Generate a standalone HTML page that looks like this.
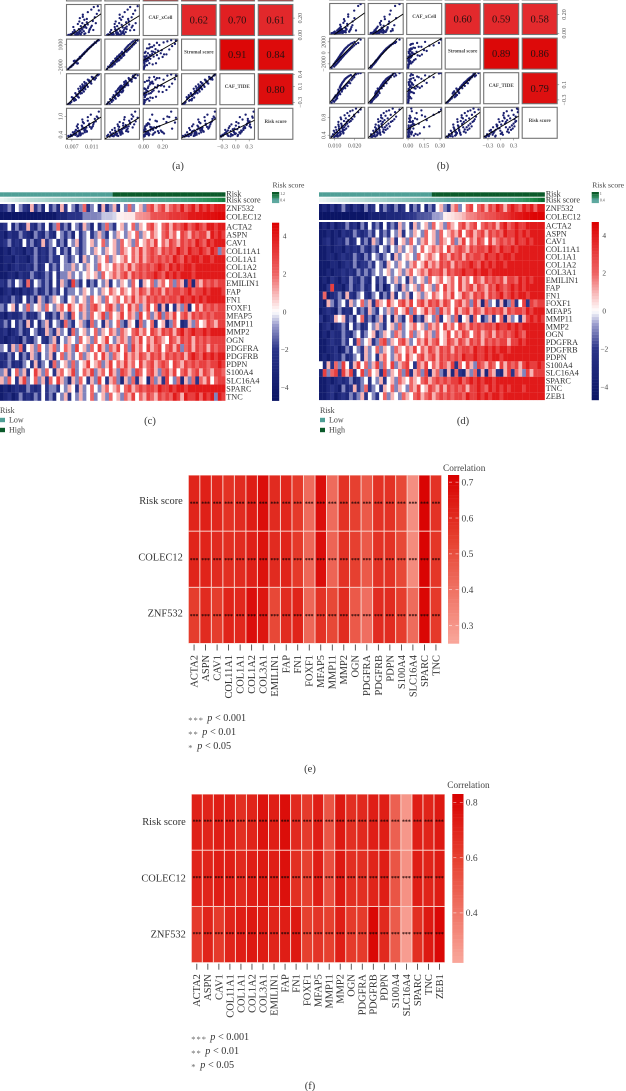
<!DOCTYPE html>
<html lang="en">
<head>
<meta charset="utf-8">
<title>Correlation panels</title>
<style>
html,body{margin:0;padding:0;background:#fff;}
body{width:626px;height:1091px;overflow:hidden;}
svg{display:block;font-family:"Liberation Serif",serif;}
text{fill:#333;}
</style>
</head>
<body>
<svg id="root" xmlns="http://www.w3.org/2000/svg" width="626" height="1091" viewBox="0 0 626 1091">
<rect x="0" y="0" width="626" height="1091" fill="#fff"/>
<text x="178" y="169" font-size="10.5" text-anchor="middle">(a)</text>
<text x="443" y="169" font-size="10.5" text-anchor="middle">(b)</text>
<text x="150" y="424" font-size="10.5" text-anchor="middle">(c)</text>
<text x="463" y="424" font-size="10.5" text-anchor="middle">(d)</text>
<text x="310" y="772" font-size="10.5" text-anchor="middle">(e)</text>
<text x="310" y="1089" font-size="10.5" text-anchor="middle">(f)</text>
</svg>
<script>
/* ---------- pair plot data: one value per sample ---------- */
const pairNames = ["", "", "CAF_xCell", "Stromal score", "CAF_TIDE", "Risk score"];
const aCafOne = [.0063,.0068,.0066,.0072,.0069,.0075,.0070,.0078,.0073,.0074,.0081,.0076,.0082,.0077,.0084,.0079,.0085,.0080,.0087,.0081,.0088,.0082,.0086,.0083,.0090,.0085,.0091,.0086,.0092,.0087,.0094,.0088,.0095,.0090,.0096,.0091,.0097,.0092,.0099,.0094,.0100,.0095,.0102,.0097,.0104,.0100,.0106,.0102,.0109,.0105,.0112,.0108,.0114,.0110,.0116,.0113,.0120,.0118,.0124,.0122];
const aCafTwo = [.0064,.0066,.0069,.0070,.0073,.0072,.0075,.0074,.0079,.0076,.0077,.0081,.0079,.0083,.0080,.0082,.0081,.0086,.0083,.0088,.0084,.0085,.0089,.0086,.0087,.0091,.0088,.0093,.0089,.0090,.0095,.0091,.0092,.0096,.0093,.0098,.0094,.0095,.0100,.0096,.0102,.0098,.0099,.0103,.0101,.0106,.0103,.0108,.0105,.0110,.0107,.0113,.0110,.0115,.0113,.0118,.0116,.0121,.0120,.0125];
const aXcell = [.002,.010,.003,.035,.006,.060,.012,.005,.095,.020,.008,.045,.130,.004,.070,.025,.160,.015,.055,.005,.105,.030,.200,.010,.075,.040,.140,.018,.240,.050,.090,.008,.180,.030,.120,.065,.020,.215,.085,.045,.150,.012,.270,.100,.035,.190,.070,.125,.300,.055,.165,.090,.330,.110,.210,.060,.250,.140,.290,.340];
const aStromal = [-2250,-1950,-2050,-1750,-1950,-1500,-1800,-1400,-1650,-1200,-1550,-1150,-1500,-1300,-900,-1250,-850,-1150,-800,-1100,-600,-1000,-650,-950,-500,-850,-400,-750,-300,-700,-250,-600,-150,-500,-50,-400,50,-300,100,-150,200,-100,350,50,500,250,650,400,800,500,950,700,1100,900,1300,1050,1450,1250,1600,1550];
const aTide = [-.34,-.30,-.33,-.22,-.29,-.26,-.17,-.24,-.19,-.25,-.12,-.21,-.16,-.07,-.18,-.11,-.03,-.14,-.08,-.12,.00,-.10,-.04,.04,-.07,-.02,.07,-.05,.01,.10,-.03,.05,.12,.00,.08,.15,.03,.10,.18,.06,.13,.21,.09,.17,.24,.13,.20,.27,.17,.25,.31,.22,.28,.34,.27,.32,.37,.31,.40,.38];
const aRisk = [.36,.40,.34,.48,.37,.42,.36,.56,.40,.45,.35,.50,.62,.39,.54,.42,.46,.68,.38,.52,.44,.74,.48,.36,.58,.42,.66,.50,.82,.46,.60,.40,.54,.70,.48,.90,.58,.44,.64,.78,.52,.62,.98,.56,.72,.50,.66,.86,.60,.76,.68,1.06,.80,.64,.92,.74,1.0,.84,1.16,.96];
const bCafOne = [.0085,.0092,.0098,.0096,.0104,.0101,.0108,.0105,.0113,.0109,.0116,.0112,.0119,.0114,.0122,.0117,.0125,.0119,.0128,.0121,.0131,.0124,.0133,.0126,.0136,.0128,.0138,.0130,.0141,.0133,.0144,.0135,.0147,.0138,.0150,.0141,.0153,.0144,.0156,.0147,.0160,.0150,.0164,.0154,.0168,.0158,.0173,.0163,.0178,.0168,.0184,.0174,.0190,.0181,.0198,.0189,.0207,.0199,.0218,.0230];
const bCafTwo = [.0088,.0090,.0094,.0101,.0098,.0106,.0103,.0110,.0107,.0114,.0111,.0117,.0113,.0121,.0116,.0124,.0118,.0127,.0120,.0130,.0123,.0132,.0125,.0135,.0127,.0137,.0129,.0140,.0132,.0143,.0134,.0146,.0137,.0149,.0140,.0152,.0143,.0155,.0146,.0159,.0149,.0163,.0153,.0167,.0157,.0172,.0162,.0177,.0167,.0183,.0173,.0189,.0180,.0197,.0188,.0206,.0198,.0215,.0210,.0232];
const bXcell = [.001,.004,.002,.010,.003,.018,.002,.006,.030,.004,.012,.002,.042,.007,.020,.003,.055,.010,.005,.028,.070,.004,.015,.036,.006,.090,.012,.024,.005,.048,.110,.008,.018,.034,.130,.006,.060,.022,.010,.150,.040,.014,.080,.028,.175,.050,.016,.100,.035,.200,.065,.022,.125,.045,.240,.085,.030,.160,.290,.310];
const bStromal = [-2700,-2350,-2500,-2050,-2250,-1850,-2100,-1600,-1900,-1450,-1750,-1300,-1650,-1200,-1500,-1050,-1350,-950,-1250,-800,-1150,-700,-1000,-550,-900,-450,-800,-300,-700,-200,-550,-50,-450,50,-300,200,-200,350,-100,500,50,650,200,800,350,950,500,1100,700,1300,900,1450,1100,1650,1350,1800,1600,2000,1800,2400];
const bTide = [-.37,-.32,-.35,-.26,-.31,-.22,-.28,-.18,-.26,-.23,-.13,-.21,-.10,-.19,-.07,-.17,-.12,-.03,-.15,-.09,.00,-.12,-.05,.03,-.08,.05,-.03,.08,-.01,.10,.02,.12,.04,.15,.06,.17,.01,.19,.09,.21,.12,.24,.07,.26,.15,.28,.18,.30,.14,.32,.22,.34,.26,.36,.30,.32,.38,.35,.40,.41];
const bRisk = [.37,.42,.36,.50,.39,.46,.38,.58,.42,.52,.37,.47,.64,.41,.55,.45,.39,.70,.48,.60,.43,.52,.76,.46,.62,.41,.56,.80,.50,.66,.44,.58,.72,.48,.85,.53,.64,.46,.78,.58,.70,.52,.90,.62,.74,.55,.84,.66,.94,.60,.78,.70,.96,.72,.86,.76,1.0,.82,.92,.98];

/* correlation values shown in the upper triangle, keyed by row then column */
const aCorrXcell = [0.62, 0.70, 0.61];
const aCorrStromal = [0.91, 0.84];
const aCorrTide = [0.80];
const bCorrXcell = [0.60, 0.59, 0.58];
const bCorrStromal = [0.89, 0.86];
const bCorrTide = [0.79];

/* axis tick labels for the pair plots */
const aTicksCaf = [0.007, 0.011];
const aTicksXcell = [0.00, 0.20];
const aTicksStromal = [-2000, 1000];
const aTicksTideX = [-0.3, 0.0, 0.3];
const aTicksTideY = [-0.3, 0.1, 0.4];
const aTicksRisk = [0.4, 1.0];
const bTicksCaf = [0.010, 0.020];
const bTicksXcell = [0.00, 0.15, 0.30];
const bTicksStromal = [-2000, 0, 2000];
const bTicksTideX = [-0.3, 0.0, 0.3];
const bTicksTideY = [-0.3, 0.1];
const bTicksRisk = [0.4, 0.8];

/* ---------- expression heatmap (c) ---------- */
const cGenes = ["ACTA2","ASPN","CAV1","COL11A1","COL1A1","COL1A2","COL3A1","EMILIN1","FAP","FN1","FOXF1","MFAP5","MMP11","MMP2","OGN","PDGFRA","PDGFRB","PDPN","S100A4","SLC16A4","SPARC","TNC"];
const cRiskGroup = [0,0,0,0,0,0,0,0,0,0,0,0,0,0,0,0,0,0,0,0,0,0,0,0,0,0,0,0,0,0,1,1,1,1,1,1,1,1,1,1,1,1,1,1,1,1,1,1,1,1,1,1,1,1,1,1,1,1,1,1];
const cRiskScore = [.31,.33,.35,.37,.39,.41,.42,.44,.45,.46,.47,.48,.50,.51,.52,.53,.54,.55,.56,.57,.58,.59,.60,.61,.62,.63,.64,.65,.66,.67,.68,.69,.70,.71,.72,.73,.74,.75,.76,.78,.79,.80,.82,.83,.85,.86,.88,.89,.91,.93,.95,.97,.99,1.01,1.03,1.05,1.07,1.09,1.12,1.15];
const cZnf = [-3,-2,-1,-3,0,-1,-2,-3,1,-2,-1,-3,0,-2,-1,-3,1,-2,0,-1,-3,-1,2,-2,-1,0,-3,1,-2,-1,1,-2,0,-1,2,-1,0,1,-1,2,3,1,2,3,1,2,3,2,4,2,3,4,2,4,3,4,3,4,4,4];
const cColec = [-4.5,-4.5,-4.5,-4.5,-4.5,-4.5,-4.5,-4.5,-4.5,-4.5,-4.4,-4.4,-4.4,-4.3,-4.3,-3.2,-3.2,-3.2,-2.1,-2.1,-2.1,-2,-1,-1,-1,-1,-.9,-.4,-.4,-.4,-.3,.2,.2,.3,.3,.3,1.3,1.4,1.5,1.6,2.4,2.5,2.5,2.6,2.7,3.2,3.2,3.3,3.3,3.4,4,4,4.1,4.1,4.2,4.3,4.3,4.4,4.5,4.5];
const cRows = [
[-3,-2,0,-3,-1,-3,-2,1,-2,-3,-1,-2,0,-3,-1,2,-2,-1,-3,0,-1,-2,1,-1,-3,0,-2,-1,2,-1,-2,0,1,-1,0,2,-1,1,0,2,3,1,0,2,3,1,3,2,3,4,2,3,4,3,2,4,4,3,4,4],
[-3,-4,-2,-3,-3,-1,-2,-3,-4,-1,-2,-3,-1,-2,-3,0,-1,-2,-1,-3,0,-2,-1,0,-2,-1,1,-1,-2,0,-1,1,0,-1,1,0,2,-1,1,0,2,1,0,2,3,1,2,0,3,2,1,3,2,3,3,1,4,3,4,3],
[-3,-2,-1,-3,-2,-3,0,-2,-1,-3,-2,1,-2,-1,0,-2,-1,-3,0,-1,1,-2,-1,0,1,-1,0,2,-1,0,1,-1,2,0,1,-1,2,0,1,2,1,3,0,2,1,3,2,1,3,2,3,2,4,3,2,4,3,4,4,4],
[-4,-3,-4,-2,-3,-3,-4,-2,-3,-1,-3,-2,-3,-1,-2,0,-2,-1,-3,0,-1,-2,-1,0,-1,1,0,-1,1,0,1,-1,2,1,0,2,1,3,1,2,3,2,1,3,2,3,2,4,3,2,4,3,3,4,3,2,4,3,-1,2],
[-4,-3,-3,-4,-2,-3,-3,-4,-2,-1,-3,-2,-3,-1,-2,-2,0,-1,-2,-1,0,-2,1,-1,0,-1,1,0,2,-1,1,0,1,2,0,2,1,3,1,2,3,2,3,2,3,2,4,3,2,4,3,4,4,3,4,4,3,4,4,4],
[-4,-3,-4,-3,-2,-3,-3,-2,-3,-1,-3,-2,0,-2,-1,-2,0,-1,-1,1,-1,0,-1,1,0,-1,2,0,1,0,2,1,2,1,3,1,2,3,2,3,2,3,4,3,2,4,3,4,3,4,4,3,4,4,4,4,4,4,4,4],
[-4,-4,-3,-3,-4,-2,-3,-3,-1,-2,-3,-2,-1,-2,0,-2,-1,-1,1,-1,0,-1,0,1,0,1,-1,2,0,1,2,1,2,3,1,3,2,3,2,3,3,4,3,2,4,3,4,3,4,4,4,3,4,4,4,4,4,4,4,4],
[-2,-3,-1,-2,0,-1,-3,2,-2,0,-1,-2,-1,-3,0,-2,1,-1,-2,3,-1,-2,0,-3,-1,-2,0,-1,1,-2,0,-1,1,0,-1,2,0,-2,1,0,2,-1,1,2,0,2,-1,2,1,-2,3,-3,2,1,3,2,3,2,3,3],
[-4,-3,-2,-4,-3,-4,-2,-3,-2,-1,-3,-2,-1,-3,-1,-2,0,-2,-1,-1,0,-1,1,0,-1,0,-1,1,0,2,1,0,2,1,0,2,1,3,2,1,3,2,3,1,3,2,3,3,2,3,4,2,3,3,4,3,4,4,4,3],
[-3,-2,-3,-1,-2,-3,0,-2,-1,-3,1,-1,-2,-1,1,0,-1,-2,0,1,-1,0,1,-1,2,0,1,-1,2,0,1,2,0,2,1,3,1,2,1,3,2,3,2,3,2,3,3,2,4,3,3,4,3,4,3,4,4,4,4,4],
[-1,-2,0,1,-2,0,-1,2,-1,0,1,-1,2,0,-1,1,2,0,3,1,0,2,1,-1,2,3,1,0,2,3,1,-1,2,0,3,1,2,-1,1,3,0,2,-2,1,-3,0,-2,1,-1,2,-3,0,3,1,3,2,3,2,3,3],
[-3,-4,-2,-3,-3,-2,-1,-3,-2,-3,-1,0,-2,-3,-1,-2,1,-1,-2,2,0,-1,1,-1,2,0,1,3,-1,2,0,1,3,0,2,1,-1,3,0,2,-1,1,3,-1,2,1,3,0,2,3,1,3,2,3,2,3,2,3,3,3],
[-2,-1,-3,0,-2,-1,-3,1,-2,0,-3,-1,1,-2,0,-1,-2,2,-1,-2,0,1,-1,-2,2,-1,0,-2,1,-1,0,2,-1,-2,1,0,-3,2,-1,0,2,-2,0,1,-3,-1,2,0,-3,-2,1,-1,2,0,1,3,2,1,3,3],
[-3,-2,-4,-3,-2,-1,-3,-2,0,-1,-3,-2,1,-1,-2,1,-1,0,-2,2,-1,0,1,-1,0,2,-1,1,0,2,1,-1,2,1,0,2,3,1,2,0,3,2,1,3,2,3,1,3,4,2,3,4,3,3,4,3,4,4,4,4],
[-3,-4,-3,-2,-3,-4,-1,-2,-3,-1,0,-2,-3,-1,1,-2,0,-1,1,0,-1,2,0,1,-1,2,0,1,3,0,-1,1,2,1,-1,2,1,3,0,2,1,3,2,1,0,3,2,1,3,2,3,1,3,2,3,2,3,3,3,3],
[-1,0,-2,1,-1,2,-2,0,1,-1,2,0,-1,1,2,-1,0,2,1,-1,3,0,1,-1,2,0,3,1,-1,2,1,3,0,2,-1,3,1,2,0,3,1,2,3,0,2,3,1,3,-1,2,3,1,3,2,3,1,3,2,3,3],
[-2,-3,-1,-2,0,-3,-1,-2,1,-1,-2,0,-1,1,-2,0,2,-1,1,-1,0,2,-1,1,0,2,0,3,1,-1,2,1,0,3,1,2,1,3,2,1,3,2,3,1,3,2,3,2,3,1,3,4,3,2,4,3,4,3,4,4],
[-3,-2,-1,-3,-2,-3,-1,0,-2,1,-2,-1,0,-2,2,-1,0,1,-1,2,-1,0,1,3,0,1,2,-1,1,3,0,2,1,3,1,2,0,3,1,2,3,1,2,3,2,0,3,2,1,3,2,3,2,3,3,2,3,3,4,3],
[-1,1,-2,0,2,-1,1,-2,0,3,1,-1,2,0,-2,1,2,0,1,3,-1,0,2,1,3,-1,1,2,0,3,1,-1,3,2,1,-1,3,2,0,2,3,1,-1,2,3,1,3,0,2,3,1,2,3,1,3,2,1,3,3,2],
[1,-1,2,0,-2,1,3,-1,0,2,-1,1,-2,2,0,3,1,-1,-3,1,-1,2,0,-2,1,-1,3,0,-2,1,2,-1,-3,1,-1,2,-2,1,0,-3,2,-1,1,-2,3,0,-1,2,-3,1,-1,2,-2,2,1,3,0,2,3,3],
[-4,-3,-4,-3,-2,-3,-3,-1,-2,-3,-2,0,-2,-1,-1,-2,0,-1,1,0,-2,1,-1,0,2,0,-1,1,2,0,1,2,0,2,3,1,2,3,2,3,3,2,4,3,3,4,3,4,4,3,4,4,4,4,4,4,4,4,4,4],
[-4,-3,-2,-4,-3,-1,-3,-2,-3,-1,-2,0,-2,-1,-3,0,-1,1,-2,0,-1,1,-1,0,2,-1,0,1,-1,2,0,1,-1,2,1,3,0,2,1,3,2,1,3,2,3,2,4,3,1,4,3,3,4,2,4,3,4,-1,4,3]
];

/* ---------- expression heatmap (d) ---------- */
const dGenes = ["ACTA2","ASPN","CAV1","COL11A1","COL1A1","COL1A2","COL3A1","EMILIN1","FAP","FN1","FOXF1","MFAP5","MMP11","MMP2","OGN","PDGFRA","PDGFRB","PDPN","S100A4","SLC16A4","SPARC","TNC","ZEB1"];
const dRiskGroup = [0,0,0,0,0,0,0,0,0,0,0,0,0,0,0,0,0,0,0,0,0,0,0,0,0,0,0,0,0,0,1,1,1,1,1,1,1,1,1,1,1,1,1,1,1,1,1,1,1,1,1,1,1,1,1,1,1,1,1,1];
const dRiskScore = [.30,.31,.33,.35,.36,.38,.39,.40,.42,.43,.44,.45,.47,.48,.49,.50,.51,.52,.54,.55,.56,.57,.58,.59,.60,.61,.62,.63,.64,.65,.66,.67,.68,.70,.71,.72,.73,.74,.75,.77,.78,.79,.81,.82,.84,.85,.87,.88,.90,.92,.94,.96,.98,1.0,1.03,1.06,1.09,1.13,1.17,1.22];
const dZnf = [-4,-3,-4,-2,-4,-3,-1,-3,-4,-2,-3,-4,-1,-3,-2,0,-3,-1,-2,-3,-1,-3,-2,0,-3,-1,-2,0,-3,-1,-2,0,1,-1,-2,1,2,-1,0,2,3,0,2,3,1,3,2,4,3,1,3,4,3,2,4,3,4,2,4,4];
const dColec = [-4.6,-4.6,-4.6,-4.6,-4.6,-4.6,-4.6,-4.6,-4.5,-4.5,-4.5,-4.5,-4.5,-3.6,-3.6,-3.6,-3.5,-3.5,-3,-3,-2.9,-2.8,-2.6,-2,-2,-1.9,-1.6,-1.6,-1.5,-1.5,-.7,-.7,-.6,.2,.3,.4,.6,.7,1,1.5,1.6,1.7,2,2,2.4,2.5,2.6,3,3.1,3.3,3.5,3.8,4,4.1,4.3,4.4,4.5,4.6,4.6,4.6];
const dRows = [
[-4,-3,-4,-2,-4,-3,-3,-1,-3,-2,-4,-1,-3,0,-2,-1,-3,0,-2,-1,-2,1,-1,0,-2,1,-1,0,1,-1,2,0,1,-1,2,1,0,2,3,1,2,3,0,2,3,2,3,1,3,4,2,3,4,3,3,4,4,4,4,4],
[-4,-4,-3,-4,-3,-4,-2,-3,-3,-1,-2,-3,-2,-1,-2,0,-2,-1,-2,0,-1,1,-2,0,-1,1,0,-1,2,0,1,-1,2,0,1,2,1,3,0,2,3,1,2,3,1,3,2,3,2,4,3,3,4,3,4,3,4,4,4,4],
[-4,-3,-2,-4,-3,-2,-3,-1,-3,-2,0,-2,-1,-3,1,-1,-2,0,-1,1,-2,0,1,-1,2,0,-1,1,2,0,1,-1,2,1,0,2,-1,1,3,0,2,1,3,2,0,3,1,2,3,2,3,2,4,3,3,4,3,4,4,4],
[-4,-4,-3,-4,-3,-3,-4,-2,-3,-2,-3,-1,-2,-3,-1,-2,0,-1,-2,0,-1,1,-1,0,1,-1,0,2,0,1,2,1,2,0,3,1,2,3,2,1,3,2,3,3,2,4,3,2,4,3,3,4,3,4,4,4,4,4,4,4],
[-4,-4,-3,-3,-4,-3,-2,-3,-3,-1,-2,-3,-1,-2,0,-1,-2,-1,0,-2,1,-1,0,1,0,-1,2,0,1,2,1,0,3,2,1,3,2,3,1,3,2,3,3,2,4,3,3,4,3,4,4,3,4,4,4,4,4,4,4,4],
[-4,-4,-4,-3,-3,-4,-3,-2,-3,-1,-3,-2,-2,-1,-2,0,-1,-2,1,0,-1,1,0,-1,1,2,0,1,3,1,2,1,3,2,3,1,3,2,3,3,4,3,2,4,3,4,3,4,4,3,4,4,4,4,4,4,4,4,4,4],
[-4,-4,-3,-4,-3,-3,-2,-3,-2,-3,-1,-2,-1,-2,-1,0,-1,0,1,-1,0,1,-1,1,2,0,1,2,1,3,2,2,3,1,3,2,3,3,4,3,3,4,3,4,4,3,4,4,4,4,4,4,4,4,4,4,4,4,4,4],
[-4,-3,-4,-2,-3,-4,-2,-3,-1,-2,-3,-1,-2,-3,0,-2,-1,-2,0,-1,1,-1,0,-2,1,-1,0,1,-1,2,0,1,2,0,1,2,0,3,1,2,0,3,2,1,3,2,3,2,3,1,3,3,2,4,3,4,3,4,4,4],
[-4,-4,-2,3,-3,-3,-4,-2,-1,-3,-2,-1,-3,-2,0,-3,-1,-4,-2,0,-1,-2,1,-1,0,1,-1,2,0,1,-1,2,0,3,1,2,0,3,1,2,3,1,3,2,1,3,2,4,3,2,3,4,3,4,3,4,4,4,4,4],
[-3,2,-4,-3,-2,-1,-3,1,-2,-3,-1,0,-2,-3,-1,0,-3,-1,-2,1,-2,0,-1,1,-2,0,1,-1,1,0,2,1,0,2,1,3,0,1,3,2,1,3,2,3,1,3,2,3,4,2,3,4,3,4,4,3,4,4,4,4],
[-3,-4,1,-1,-3,-1,0,-2,1,-1,0,2,-1,1,-2,2,1,0,3,1,0,2,3,1,3,0,2,3,1,3,2,3,1,3,2,0,2,3,1,2,-1,3,1,-3,2,-1,0,-2,1,-3,-1,2,-2,0,3,-2,3,2,3,3],
[-4,-3,-2,-3,-4,-1,-3,-2,-3,0,-2,-1,-2,1,-1,-2,0,-1,1,-1,2,0,1,3,-1,2,0,1,3,1,2,-1,3,1,2,0,3,1,2,3,1,3,2,1,3,2,3,2,3,1,3,2,3,3,2,4,3,4,4,4],
[-2,-4,-3,-2,1,0,1,-2,-1,-3,0,2,-2,-1,-3,-1,1,-2,0,-3,1,-1,-2,0,2,-3,-1,-2,1,0,-1,2,-2,0,1,-1,2,-3,0,1,-2,2,0,-3,-1,1,-2,0,2,-3,1,-1,0,-2,1,3,4,3,4,3],
[-4,-3,-2,-4,-3,-2,-1,-3,0,-2,-1,-3,-2,0,-1,1,-1,-2,0,1,-1,2,-1,0,1,2,0,1,-1,2,1,2,0,3,1,2,0,3,2,1,3,2,3,2,3,3,2,4,3,3,4,3,4,3,4,4,4,4,4,4],
[-4,-3,-4,-2,-3,-3,-1,-2,-3,-1,0,-2,-1,0,1,-2,-1,1,0,-1,2,1,-1,0,2,-1,1,0,2,1,-1,2,0,1,3,0,2,1,3,2,0,2,3,1,2,3,1,3,2,3,2,3,4,3,2,4,4,4,4,4],
[-4,-4,-3,-2,-3,-3,-1,-2,0,-2,2,-1,0,1,-2,-1,2,3,-1,1,0,2,3,1,-1,0,2,1,3,1,2,3,0,1,3,2,1,3,2,1,3,2,3,1,3,2,3,2,3,3,1,3,3,4,3,4,4,4,4,4],
[-4,-4,-3,-3,-2,-4,-3,-1,-2,0,-1,-2,1,-1,0,2,-1,1,0,-1,2,1,0,2,1,3,0,2,1,3,2,1,3,2,3,1,3,2,3,3,2,4,3,3,4,3,4,3,4,4,3,4,4,4,4,4,4,4,4,4],
[-4,-3,-4,-3,-2,-3,-1,-3,-2,-1,0,-2,1,-1,0,-2,1,2,0,-1,1,2,0,3,1,0,2,3,1,2,3,1,3,2,3,2,3,2,4,3,3,4,3,3,4,3,4,4,3,4,4,4,4,4,4,4,4,4,4,4],
[0,-3,1,-2,2,-1,3,0,-2,1,3,0,2,-1,1,3,-1,2,0,3,-1,1,2,3,0,-2,2,1,3,0,2,1,3,2,1,3,-2,2,0,3,1,-1,3,2,1,3,2,0,3,1,3,2,3,1,3,4,3,3,4,3],
[-3,3,-1,2,3,-2,3,1,3,-2,0,3,-1,2,0,1,-2,3,-1,1,0,2,-1,3,-2,1,2,-1,3,-3,1,2,-1,-3,1,-3,2,-2,-3,1,-1,2,-2,1,-3,2,1,-2,-3,1,3,-2,2,1,-1,3,1,3,3,3],
[-4,-4,-3,-4,-3,-2,-3,-2,-1,-3,-2,-1,0,-2,0,-1,1,-2,0,1,-1,2,1,0,2,1,0,2,3,1,2,3,2,3,2,3,3,4,2,3,4,3,4,3,4,4,3,4,4,4,4,4,4,4,4,4,4,4,4,4],
[-4,-4,-3,-2,-3,-4,-1,-3,-2,1,-2,-1,2,-2,-1,0,-2,1,0,2,-1,1,0,-1,2,1,3,0,1,3,2,1,3,1,3,2,3,2,3,1,3,3,4,3,2,4,3,4,3,4,3,4,4,4,3,4,4,4,4,4],
[-4,-4,-3,-2,-4,-3,-2,-3,-1,-2,-1,1,-2,0,-1,-2,0,2,-1,1,0,-1,2,1,0,2,3,1,2,3,1,2,3,2,3,2,3,3,2,4,3,3,4,3,4,3,4,4,3,4,4,4,4,4,4,4,4,4,4,4]
];

/* ---------- correlation heatmap (e) ---------- */
const eGenes = ["ACTA2","ASPN","CAV1","COL11A1","COL1A1","COL1A2","COL3A1","EMILIN1","FAP","FN1","FOXF1","MFAP5","MMP11","MMP2","OGN","PDGFRA","PDGFRB","PDPN","S100A4","SLC16A4","SPARC","TNC"];
const eRowLabels = ["Risk score","COLEC12","ZNF532"];
const eRiskScore = [.62,.63,.61,.58,.60,.64,.68,.60,.61,.56,.42,.68,.42,.58,.54,.47,.58,.58,.52,.32,.71,.58];
const eColec = [.62,.62,.60,.59,.60,.63,.67,.60,.62,.56,.43,.68,.44,.58,.54,.47,.58,.58,.52,.33,.71,.57];
const eZnf = [.55,.60,.55,.62,.61,.68,.66,.52,.60,.62,.43,.58,.52,.60,.47,.41,.60,.60,.55,.42,.70,.56];
const eBarTicks = [0.7,0.6,0.5,0.4,0.3];

/* ---------- correlation heatmap (f) ---------- */
const fGenes = ["ACTA2","ASPN","CAV1","COL11A1","COL1A1","COL1A2","COL3A1","EMILIN1","FAP","FN1","FOXF1","MFAP5","MMP11","MMP2","OGN","PDGFRA","PDGFRB","PDPN","S100A4","SLC16A4","SPARC","TNC","ZEB1"];
const fRowLabels = ["Risk score","COLEC12","ZNF532"];
const fRiskScore = [.71,.70,.72,.72,.66,.70,.76,.72,.78,.68,.62,.72,.52,.74,.66,.68,.72,.72,.48,.28,.72,.70,.74];
const fColec = [.70,.70,.72,.72,.68,.72,.74,.72,.77,.66,.60,.72,.54,.74,.66,.66,.70,.72,.52,.30,.72,.70,.73];
const fZnf = [.62,.70,.62,.70,.72,.74,.73,.70,.72,.74,.60,.64,.60,.72,.62,.62,.80,.68,.50,.26,.66,.74,.80];
const fBarTicks = [0.8,0.6,0.4];

/* ---------- helpers ---------- */
const NS = "http://www.w3.org/2000/svg";
const root = document.getElementById("root");
function svgEl(tag, attrs, parent) {
  const e = document.createElementNS(NS, tag);
  for (const k in attrs) e.setAttribute(k, attrs[k]);
  (parent || root).appendChild(e);
  return e;
}
function linear(d0, d1, r0, r1) { return v => r0 + (v - d0) / (d1 - d0) * (r1 - r0); }
function hexToRgb(h) { return [parseInt(h.slice(1,3),16), parseInt(h.slice(3,5),16), parseInt(h.slice(5,7),16)]; }
function ramp(stops) {
  return v => {
    if (v <= stops[0][0]) return stops[0][1];
    for (let i = 1; i < stops.length; i++) {
      if (v <= stops[i][0]) {
        const t = (v - stops[i-1][0]) / (stops[i][0] - stops[i-1][0]);
        const a = hexToRgb(stops[i-1][1]), b = hexToRgb(stops[i][1]);
        return "rgb(" + a.map((c, n) => Math.round(c + (b[n] - c) * t)).join(",") + ")";
      }
    }
    return stops[stops.length-1][1];
  };
}
const heatColor = ramp([[-4.7,"#0a1464"],[-2,"#2a3488"],[-0.7,"#9a9ccd"],[0,"#ffffff"],[1,"#f7b3b3"],[2,"#ee6464"],[4.7,"#dd0000"]]);
const scoreColor = ramp([[.3,"#eef6f4"],[.5,"#a9d3cc"],[.72,"#5ea99f"],[.95,"#419a78"],[1.1,"#1f8a4a"],[1.22,"#0b6a30"]]);
const pairColor = ramp([[.5,"#e43235"],[.7,"#e11f22"],[.8,"#dd0e0e"],[.92,"#dc0606"]]);
function fmtTick(v, digits) { return (v < 0 ? "\u2212" : "") + Math.abs(v).toFixed(digits); }
function regress(xs, ys) {
  const n = xs.length;
  const mx = xs.reduce((a,b)=>a+b,0)/n, my = ys.reduce((a,b)=>a+b,0)/n;
  let sxy = 0, sxx = 0;
  for (let i = 0; i < n; i++) { sxy += (xs[i]-mx)*(ys[i]-my); sxx += (xs[i]-mx)*(xs[i]-mx); }
  const m = sxy / sxx;
  return { m: m, b: my - m * mx };
}

/* ---------- pair plot ---------- */
let clipCounter = 0;
function drawPairs(cfg) {
  const g = svgEl("g", {});
  
  
  const px = i => cfg.x0 + i * cfg.pitchX;
  const py = r => cfg.y0 + (r - 2) * cfg.pitchY;
  for (let r = 1; r < 6; r++) {
    for (let c = 0; c < 6; c++) {
      const x = px(c), y = py(r);
      const isCorr = c > r;
      let fill = "#fff";
      let corr = null;
      if (isCorr && r >= 2) { corr = cfg.corr[r-2][c-r-1]; fill = pairColor(corr); }
      if (isCorr && r === 1) fill = "#df1b1e";
      const box = svgEl("rect", {x:x, y:y, width:cfg.w, height:cfg.h, fill:fill, stroke:"#737373", "stroke-width":1.1}, g);
      
      
      if (corr !== null) {
        const t = svgEl("text", {x:x+cfg.w/2, y:y+cfg.h/2+3.6, "font-size":10.5, "text-anchor":"middle", style:"fill:#2a1010"}, g);
        t.textContent = corr.toFixed(2);
        
        
      }
      if (c === r && pairNames[r]) {
        const t = svgEl("text", {x:x+cfg.w/2, y:y+cfg.h/2-1, "font-size":5, "font-weight":"bold", "text-anchor":"middle", style:"fill:#444"}, g);
        t.textContent = pairNames[r];
        
        
      }
      if (c < r) {
        const id = "clip" + (clipCounter++);
        const cp = svgEl("clipPath", {id:id}, g);
        svgEl("rect", {x:x, y:y, width:cfg.w, height:cfg.h}, cp);
        const sx = linear(cfg.dom[c][0], cfg.dom[c][1], x, x + cfg.w);
        const sy = linear(cfg.dom[r][0], cfg.dom[r][1], y + cfg.h, y);
        const pg = svgEl("g", {"clip-path":"url(#"+id+")"}, g);
        const xs = cfg.vars[c], ys = cfg.vars[r];
        for (let i = 0; i < xs.length; i++) {
          const dot = svgEl("circle", {cx:sx(xs[i]), cy:sy(ys[i]), r:1.15, fill:"#1b2070"}, pg);
          
          
        }
        const fit = regress(xs, ys);
        const x0 = cfg.dom[c][0], x1 = cfg.dom[c][1];
        const ln = svgEl("line", {x1:sx(x0), y1:sy(fit.m*x0+fit.b), x2:sx(x1), y2:sy(fit.m*x1+fit.b), stroke:"#000", "stroke-width":0.9}, pg);
        
        
      }
    }
  }
  cfg.axes.forEach(ax => {
    if (ax.side === "bottom") {
      const s = linear(cfg.dom[ax.v][0], cfg.dom[ax.v][1], px(ax.v), px(ax.v)+cfg.w);
      const yb = py(5) + cfg.h;
      ax.ticks.forEach(v => {
        const tk = svgEl("line", {x1:s(v), x2:s(v), y1:yb, y2:yb+2, stroke:"#666", "stroke-width":0.5}, g);
        
        
        const t = svgEl("text", {x:s(v), y:yb+9, "font-size":6, "text-anchor":"middle", style:"fill:#555"}, g);
        t.textContent = fmtTick(v, ax.d);
        
        
      });
    } else {
      const s = linear(cfg.dom[ax.v][0], cfg.dom[ax.v][1], py(ax.v)+cfg.h, py(ax.v));
      const left = ax.side === "left";
      const xe = left ? px(0) : px(5) + cfg.w;
      ax.ticks.forEach(v => {
        const tk = svgEl("line", {x1:xe, x2:xe+(left?-2:2), y1:s(v), y2:s(v), stroke:"#666", "stroke-width":0.5}, g);
        
        
        const tx = left ? xe-4 : xe+9;
        const t = svgEl("text", {x:tx, y:s(v), "font-size":6, "text-anchor":"middle", transform:"rotate(-90 "+tx+" "+s(v)+")", style:"fill:#555"}, g);
        t.textContent = fmtTick(v, ax.d);
        
        
      });
    }
  });
}
drawPairs({
  name:"pair-plot-a", x0:66.5, y0:4.5, pitchX:38.35, pitchY:34.6, w:34.6, h:31,
  vars:[aCafOne,aCafTwo,aXcell,aStromal,aTide,aRisk],
  dom:[[.00593,.01286],[.00593,.01286],[-.005,.36],[-2420,1750],[-.36,.42],[.25,1.27]],
  corr:[aCorrXcell,aCorrStromal,aCorrTide],
  axes:[{side:"bottom",v:0,ticks:aTicksCaf,d:3},{side:"bottom",v:2,ticks:aTicksXcell,d:2},{side:"bottom",v:4,ticks:aTicksTideX,d:1},
        {side:"left",v:3,ticks:aTicksStromal,d:0},{side:"left",v:5,ticks:aTicksRisk,d:1},
        {side:"right",v:2,ticks:aTicksXcell,d:2},{side:"right",v:4,ticks:aTicksTideY,d:1}]
});
drawPairs({
  name:"pair-plot-b", x0:329.7, y0:3.5, pitchX:38.5, pitchY:34.6, w:35, h:31,
  vars:[bCafOne,bCafTwo,bXcell,bStromal,bTide,bRisk],
  dom:[[.00755,.02505],[.00755,.02505],[-.013,.316],[-2950,2680],[-.4,.42],[.33,1.03]],
  corr:[bCorrXcell,bCorrStromal,bCorrTide],
  axes:[{side:"bottom",v:0,ticks:bTicksCaf,d:3},{side:"bottom",v:2,ticks:bTicksXcell,d:2},{side:"bottom",v:4,ticks:bTicksTideX,d:1},
        {side:"left",v:3,ticks:bTicksStromal,d:0},{side:"left",v:5,ticks:bTicksRisk,d:1},
        {side:"right",v:2,ticks:aTicksXcell,d:2},{side:"right",v:4,ticks:bTicksTideY,d:1}]
});

/* ---------- expression heatmaps ---------- */
function drawExpression(cfg) {
  const g = svgEl("g", {});
  
  
  const span = cfg.x1 - cfg.x0;
  const label = (txt, y, nm) => {
    const t = svgEl("text", {x:cfg.x1+1, y:y, "font-size":8.2, style:"fill:#333"}, g);
    t.textContent = txt;
    
    
  };
  const track = (vals, y, h, colorOf, nm) => {
    const w = span / vals.length;
    const sx = linear(0, vals.length, cfg.x0, cfg.x1);
    vals.forEach((v, i) => {
      const c = svgEl("rect", {x:sx(i), y:y, width:w+0.15, height:h, fill:colorOf(v)}, g);
      
      
    });
  };
  track(cfg.group, 192.3, 4.4, v => v ? "#0b5a2a" : "#4f9f96", "risk-group-cell");
  track(cfg.score, 197.7, 4.4, scoreColor, "risk-score-cell");
  track(cfg.znf, 204, 8, heatColor, "znf532-cell");
  track(cfg.colec, 212, 8, heatColor, "colec12-cell");
  label("Risk", 196.5, "risk-track-label");
  label("Risk score", 202.5, "risk-score-track-label");
  label("ZNF532", 211, "znf532-label");
  label("COLEC12", 219.5, "colec12-label");
  const rh = (cfg.y1 - cfg.y0) / cfg.rows.length;
  const sy = linear(0, cfg.rows.length, cfg.y0, cfg.y1);
  cfg.rows.forEach((row, r) => {
    const sx = linear(0, row.length, cfg.x0, cfg.x1);
    const cw = span / row.length + 0.15;
    row.forEach((v, i) => {
      const c = svgEl("rect", {x:sx(i), y:sy(r), width:cw, height:rh+0.1, fill:heatColor(v)}, g);
      
      
    });
    label(cfg.genes[r], sy(r) + rh/2 + 2.8, "gene-label");
  });
  /* colour bar */
  const bx = cfg.barX, bw = 7.2;
  const barScale = linear(-4.7, 4.7, cfg.y1, cfg.y0);
  for (let s = 0; s < 60; s++) {
    const v0 = -4.7 + s * 9.4 / 60;
    const c = svgEl("rect", {x:bx, y:barScale(v0 + 9.4/60), width:bw, height:(cfg.y1-cfg.y0)/60+0.2, fill:heatColor(v0 + 4.7/60)}, g);
    
    
  }
  cfg.barTicks.forEach(v => {
    const t = svgEl("text", {x:bx+bw+(v<0?1.5:3.5), y:barScale(v)+2.6, "font-size":7.4, style:"fill:#444"}, g);
    t.textContent = fmtTick(v, 0);
    
    
  });
  const lt = svgEl("text", {x:bx+0.5, y:187.5, "font-size":7.6, style:"fill:#444"}, g);
  lt.textContent = "Risk score";
  
  
  cfg.miniStops.forEach((m, i) => {
    const c = svgEl("rect", {x:bx, y:192+i*2.2, width:bw, height:2.3, fill:m}, g);
    
    
  });
  cfg.miniLabels.forEach((m, i) => {
    const t = svgEl("text", {x:bx+bw+1, y:195+i*6.6, "font-size":3.8, style:"fill:#444"}, g);
    t.textContent = m;
    
    
  });
  /* group legend */
  const lx = cfg.legendX;
  const tl = svgEl("text", {x:lx, y:413, "font-size":8, style:"fill:#444"}, g);
  tl.textContent = "Risk";
  
  
  [["Low","#4f9f96",420],["High","#0b5a2a",430]].forEach(item => {
    const s = svgEl("rect", {x:lx, y:item[2]-2.2, width:5, height:4.4, fill:item[1]}, g);
    
    
    const t = svgEl("text", {x:lx+9, y:item[2]+2.6, "font-size":8, style:"fill:#444"}, g);
    t.textContent = item[0];
    
    
  });
}
const expressionTicks = [4,2,0,-2,-4];
const miniRamp = ["#0b5a2a","#1f7a48","#2f8a60","#4f9f96","#5ea99f"];
drawExpression({name:"expression-heatmap-c", x0:0, x1:225.3, y0:222.7, y1:400.7, rows:cRows, genes:cGenes, group:cRiskGroup, score:cRiskScore, znf:cZnf, colec:cColec, barX:272, barTicks:expressionTicks, miniStops:miniRamp, miniLabels:["1.2","0.4"], legendX:0});
drawExpression({name:"expression-heatmap-d", x0:319, x1:544.7, y0:222, y1:400, rows:dRows, genes:dGenes, group:dRiskGroup, score:dRiskScore, znf:dZnf, colec:dColec, barX:591.7, barTicks:expressionTicks, miniStops:miniRamp, miniLabels:["1","0.4"], legendX:320});

/* ---------- correlation heatmaps ---------- */
function drawCorrelation(cfg) {
  const g = svgEl("g", {});
  
  
  const low = cfg.dom[0], high = cfg.dom[1];
  const mid = low + (high - low) * 0.62;
  const color = ramp([[low,"#f9a79b"],[mid,"#e6402f"],[high,"#d80000"]]);
  const n = cfg.genes.length;
  const sx = linear(0, n, cfg.x0, cfg.x1);
  const sy = linear(0, 3, cfg.y0, cfg.y1);
  const cw = (cfg.x1 - cfg.x0) / n, ch = (cfg.y1 - cfg.y0) / 3;
  const bg = svgEl("rect", {x:cfg.x0, y:cfg.y0, width:cfg.x1-cfg.x0, height:cfg.y1-cfg.y0, fill:"#f9d3cc"}, g);
  
  
  cfg.values.forEach((row, r) => {
    row.forEach((v, i) => {
      const c = svgEl("rect", {x:sx(i)+0.5, y:sy(r)+0.5, width:cw-1, height:ch-1, fill:color(v)}, g);
      
      
      const st = svgEl("text", {x:sx(i)+cw/2, y:sy(r)+ch/2+cfg.starDy+2.6, "font-size":5.8, "font-weight":"bold", "text-anchor":"middle", style:"fill:#1a0505"}, g);
      st.textContent = "***";
      
      
    });
    const t = svgEl("text", {x:cfg.x0-5.5, y:sy(r)+ch/2+cfg.labelDy, "font-size":10.4, "text-anchor":"end", style:"fill:#333"}, g);
    t.textContent = cfg.rowLabels[r];
    
    
  });
  cfg.genes.forEach((name, i) => {
    const x = sx(i) + cw/2;
    const tk = svgEl("line", {x1:x, x2:x, y1:cfg.y1+1, y2:cfg.y1+7, stroke:"#333", "stroke-width":0.8}, g);
    
    
    const ty = cfg.y1 + 11.5;
    const t = svgEl("text", {x:x+3.4, y:ty, "font-size":10.4, "text-anchor":"end", transform:"rotate(-90 "+(x+3.4)+" "+ty+")", style:"fill:#333"}, g);
    t.textContent = name;
    
    
  });
  const barScale = linear(low, high, cfg.y1, cfg.y0);
  for (let s = 0; s < 50; s++) {
    const v0 = low + (high - low) * s / 50;
    const v1 = low + (high - low) * (s + 1) / 50;
    const c = svgEl("rect", {x:cfg.barX, y:barScale(v1), width:11.2, height:barScale(v0)-barScale(v1)+0.2, fill:color((v0+v1)/2)}, g);
    
    
  }
  cfg.ticks.forEach(v => {
    const y = barScale(v);
    const tk = svgEl("line", {x1:cfg.barX+1, x2:cfg.barX+4, y1:y, y2:y, stroke:"#fff", "stroke-width":0.6, opacity:0.8}, g);
    
    
    const tk2 = svgEl("line", {x1:cfg.barX+7.5, x2:cfg.barX+10.5, y1:y, y2:y, stroke:"#fff", "stroke-width":0.6, opacity:0.8}, g);
    
    
    const t = svgEl("text", {x:cfg.barX+13.5, y:y+3.3, "font-size":9.5, style:"fill:#444"}, g);
    t.textContent = v.toFixed(1);
    
    
  });
  const ct = svgEl("text", {x:cfg.barX-5, y:cfg.titleY, "font-size":9.3, style:"fill:#444"}, g);
  ct.textContent = "Correlation";
  
  
  [["***","0.001",cfg.legendY,19],["**","0.01",cfg.legendY+13.8,14],["*","0.05",cfg.legendY+27.6,9]].forEach(item => {
    const s = svgEl("text", {x:cfg.x0, y:item[2]+5, "font-size":8.5, style:"fill:#666;letter-spacing:1px"}, g);
    s.textContent = item[0];
    
    
    const t = svgEl("text", {x:cfg.x0+item[3], y:item[2]+3.2, "font-size":10.2, style:"fill:#333"}, g);
    const p = svgEl("tspan", {"font-style":"italic"}, t);
    p.textContent = "p";
    const r = svgEl("tspan", {}, t);
    r.textContent = " < " + item[1];
    
    
  });
}
drawCorrelation({name:"correlation-heatmap-e", x0:188.3, x1:441.7, y0:475, y1:643.5, genes:eGenes, rowLabels:eRowLabels, values:[eRiskScore,eColec,eZnf], dom:[.25,.72], ticks:eBarTicks, barX:448, titleY:471, legendY:718, starDy:0, labelDy:1});
drawCorrelation({name:"correlation-heatmap-f", x0:191.3, x1:445, y0:794, y1:962.7, genes:fGenes, rowLabels:fRowLabels, values:[fRiskScore,fColec,fZnf], dom:[.22,.83], ticks:fBarTicks, barX:452.3, titleY:788, legendY:1037, starDy:-1, labelDy:3});
</script>
</body>
</html>
